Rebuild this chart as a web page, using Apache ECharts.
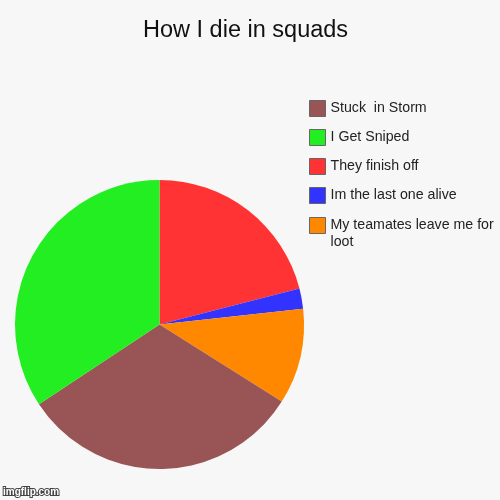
<!DOCTYPE html>
<html>
<head>
<meta charset="utf-8">
<script src="https://cdn.jsdelivr.net/npm/echarts@6/dist/echarts.min.js"></script>
<style>
  html, body { margin: 0; padding: 0; background: #f7f7f7; }
  #chart { width: 500px; height: 500px; }
</style>
</head>
<body>
<div id="chart"></div>
<script>
// slices in drawing order (clockwise from 12 o'clock)
var names = ['They finish off', 'Im the last one alive', 'My teamates leave me for loot', 'Stuck  in Storm', 'I Get Sniped'];
var values = [21.0, 2.25, 10.7, 31.75, 34.3];
var colors = ['#ff3333', '#3333ff', '#ff8800', '#995555', '#22ee22'];
// legend order as shown
var legendOrder = ['Stuck  in Storm', 'I Get Sniped', 'They finish off', 'Im the last one alive', 'My teamates leave me for loot'];

var chart = echarts.init(document.getElementById('chart'));
var pieData = [];
for (var i = 0; i < names.length; i++) {
    pieData.push({ name: names[i], value: values[i], itemStyle: { color: colors[i] } });
}

var legendText = {
    fontFamily: 'Liberation Sans',
    fontSize: 14.2,
    color: '#222',
    width: 168,
    overflow: 'break',
    lineHeight: 17
};
function legendBase(top, items) {
    return {
        orient: 'vertical',
        left: 304,
        top: top,
        icon: 'rect',
        itemWidth: 16,
        itemHeight: 16,
        itemGap: 12,
        selectedMode: false,
        data: items,
        itemStyle: { borderColor: '#666', borderWidth: 1 },
        textStyle: legendText
    };
}

var lastLegend = legendBase(195, legendOrder.slice(4));
// wrapped entry: an empty first line keeps the swatch next to the first text line
lastLegend.formatter = function (name) { return '\n' + name; };

var option = {
    backgroundColor: '#f7f7f7',
    animation: false,
    title: {
        text: 'How I die in squads',
        left: 138,
        top: 14,
        textStyle: { fontFamily: 'Liberation Sans', fontSize: 23.5, fontWeight: 'normal', color: '#111' }
    },
    legend: [
        legendBase(95, legendOrder.slice(0, 4)),
        lastLegend
    ],
    series: [{
        type: 'pie',
        center: [159.5, 324.5],
        radius: 144.5,
        startAngle: 90,
        clockwise: true,
        label: { show: false },
        labelLine: { show: false },
        emphasis: { disabled: true },
        itemStyle: { borderWidth: 0 },
        data: pieData
    }],
    graphic: [{
        type: 'text',
        left: 2,
        bottom: 2,
        style: {
            text: 'imgflip.com',
            font: 'bold 10px "Liberation Sans"',
            fill: '#fff',
            stroke: '#444',
            lineWidth: 2
        }
    }]
};
chart.setOption(option);
window.onresize = chart.resize;
</script>
</body>
</html>
